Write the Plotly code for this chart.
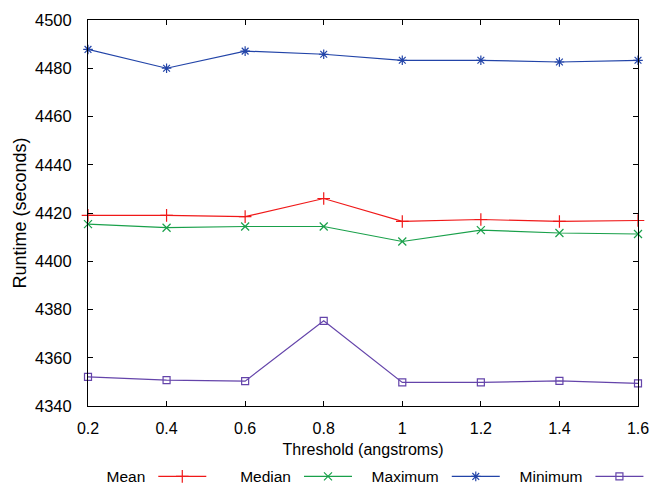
import plotly.graph_objects as go

thresholds = [0.2, 0.4, 0.6, 0.8, 1.0, 1.2, 1.4, 1.6]
x_tick_labels = ["0.2", "0.4", "0.6", "0.8", "1", "1.2", "1.4", "1.6"]
mean_vals = [4419.0, 4419.0, 4418.5, 4426.0, 4416.5, 4417.3, 4416.5, 4416.9]
median_vals = [4415.4, 4413.9, 4414.4, 4414.4, 4408.2, 4412.9, 4411.7, 4411.3]
maximum_vals = [4487.8, 4480.0, 4487.1, 4485.8, 4483.3, 4483.3, 4482.6, 4483.3]
minimum_vals = [4352.1, 4350.7, 4350.3, 4375.3, 4349.8, 4349.8, 4350.4, 4349.4]

series_names = ["Mean", "Median", "Maximum", "Minimum"]
series_vals = [mean_vals, median_vals, maximum_vals, minimum_vals]
colors = ["#f01818", "#19a04a", "#2244a8", "#6444aa"]
symbols = ["cross-thin-open", "x-thin-open", "asterisk-open", "square-open"]
sizes = [9, 8, 8, 7]
legend_ids = ["legend", "legend2", "legend3", "legend4"]
legend_x = [0.030, 0.273, 0.512, 0.781]

FONT = "Liberation Sans, Arial, sans-serif"

fig = go.Figure()
for name, vals, c, s, sz, lg in zip(series_names, series_vals, colors, symbols, sizes, legend_ids):
    fig.add_trace(go.Scatter(
        x=thresholds, y=vals, mode="lines+markers", name="",
        line=dict(color=c, width=1.2),
        marker=dict(symbol=s, size=sz, color=c, line=dict(color=c, width=1.2)),
        legend=lg, cliponaxis=False,
    ))

layout_legends = {}
for name, lg, lx in zip(series_names, legend_ids, legend_x):
    layout_legends[lg] = dict(
        orientation="h", x=lx, xanchor="left", y=-0.185, yanchor="middle",
        title=dict(text=name, side="left", font=dict(size=15.5, color="black", family=FONT)),
        font=dict(size=12, color="black", family=FONT),
        bgcolor="rgba(0,0,0,0)", itemwidth=48, borderwidth=0,
    )

fig.update_layout(
    width=700, height=520,
    margin=dict(l=88, r=62, t=20, b=114),
    plot_bgcolor="white", paper_bgcolor="white",
    font=dict(family=FONT, size=16, color="black"),
    showlegend=True,
    **layout_legends,
)
fig.update_xaxes(
    range=[0.2, 1.6], tickvals=thresholds, ticktext=x_tick_labels,
    ticks="inside", ticklen=5, tickcolor="black", showline=True, linecolor="black", linewidth=1,
    mirror="ticks", showgrid=False, zeroline=False, automargin=False,
    ticklabelstandoff=8,
    title=dict(text="Threshold (angstroms)", standoff=7, font=dict(size=16)),
    tickfont=dict(size=16),
)
fig.update_yaxes(
    range=[4340, 4500], dtick=20, tick0=4340,
    ticks="inside", ticklen=5, tickcolor="black", showline=True, linecolor="black", linewidth=1,
    mirror="ticks", showgrid=False, zeroline=False, automargin=False,
    ticklabelstandoff=12,
    title=dict(text="Runtime (seconds)", standoff=3, font=dict(size=18)),
    tickfont=dict(size=16.5),
)

page_js = (
    "document.body.style.margin='0';"
    "document.documentElement.style.overflow='hidden';"
    "document.body.style.overflow='hidden';"
)
fig.write_html("out.html", post_script=page_js, config={"displayModeBar": False})
